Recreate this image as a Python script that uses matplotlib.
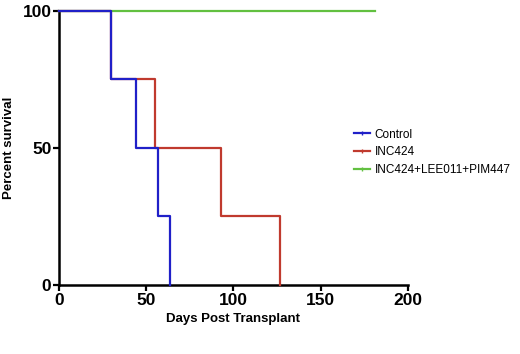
import matplotlib
matplotlib.use("Agg")
import matplotlib.pyplot as plt
from matplotlib.lines import Line2D

plt.rcParams['font.family'] = ['Liberation Sans', 'DejaVu Sans']

control_days = [0, 30, 44, 57, 63.5]
control_surv = [100, 75, 50, 25, 0]
inc_days = [0, 30, 55, 93, 126.5]
inc_surv = [100, 75, 50, 25, 0]
combo_days = [0, 181]
combo_surv = [100, 100]

series = [
    ("Control", control_days, control_surv, "#2020c8", 5),
    ("INC424", inc_days, inc_surv, "#c03a2e", 4),
    ("INC424+LEE011+PIM447", combo_days, combo_surv, "#62c040", 3),
]

fig = plt.figure(figsize=(5.2, 3.54), dpi=100)
ax = fig.add_axes([0.1135, 0.195, 0.671, 0.774])

handles = []
for name, d, s, c, z in series:
    ax.step(d, s, where='post', color=c, lw=1.6, clip_on=False, zorder=z)
    handles.append(Line2D([0], [0], color=c, lw=1.6, marker='|', markersize=3,
                          markeredgewidth=1.0, label=name))

ax.set_xlim(0, 200)
ax.set_ylim(0, 100)
ax.set_xticks([0, 50, 100, 150, 200])
ax.set_yticks([0, 50, 100])
for sp in ['top', 'right']:
    ax.spines[sp].set_visible(False)
for sp in ['left', 'bottom']:
    ax.spines[sp].set_linewidth(1.8)
ax.tick_params(direction='out', length=4, width=1.6, labelsize=12.5, pad=1.5)
for lab in ax.get_xticklabels() + ax.get_yticklabels():
    lab.set_fontweight('bold')
ax.set_xlabel("Days Post Transplant", fontsize=9.5, fontweight='bold', labelpad=4)
ax.set_ylabel("Percent survival", fontsize=9.5, fontweight='bold', labelpad=5)

fig.legend(handles=handles, loc='upper left', bbox_to_anchor=(0.66, 0.667),
           frameon=False, fontsize=8.5, handlelength=1.4, handletextpad=0.35,
           labelspacing=0.5)

fig.savefig("out.png", dpi=100)
